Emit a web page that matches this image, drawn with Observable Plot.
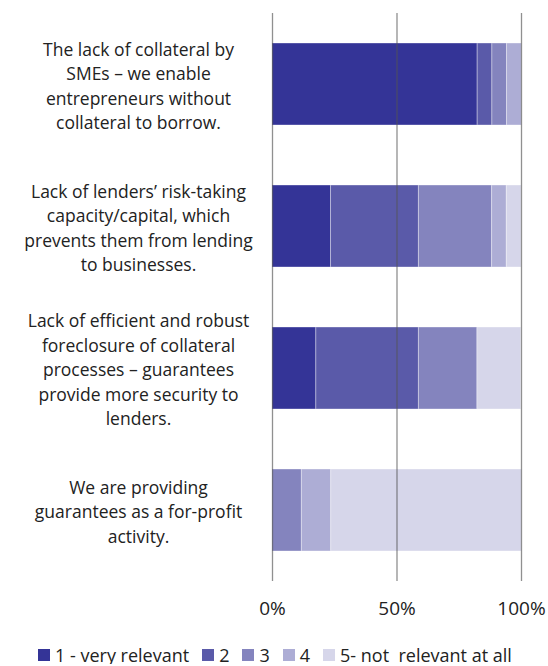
<!DOCTYPE html>
<html>
<head>
<meta charset="utf-8">
<script src="https://cdn.jsdelivr.net/npm/d3@7"></script>
<script src="https://cdn.jsdelivr.net/npm/@observablehq/plot@0.6"></script>
<style>
  body { margin: 0; background: #fff; font-family: "Open Sans", sans-serif; overflow: hidden; }
  #legend { display: flex; justify-content: flex-start; align-items: center; margin: 21px 0 0 38px; height: 18px; line-height: 18px; font-size: 18px; color: #222; white-space: pre; }
  #legend .item { display: flex; align-items: center; margin-right: 13px; }
  #legend .sw { width: 12px; height: 12px; margin-right: 5px; }
</style>
</head>
<body>
<div id="chart"></div>
<div id="legend"></div>
<script>
const categories = [
  "The lack of collateral by\nSMEs – we enable\nentrepreneurs without\ncollateral to borrow.",
  "Lack of lenders’ risk-taking\ncapacity/capital, which\nprevents them from lending\nto businesses.",
  "Lack of efficient and robust\nforeclosure of collateral\nprocesses – guarantees\nprovide more security to\nlenders.",
  "We are providing\nguarantees as a for-profit\nactivity."
];
const seriesNames = ["1 - very relevant", "2", "3", "4", "5- not  relevant at all"];
const s1 = [82.4, 23.5, 17.6, 0];
const s2 = [5.9, 35.3, 41.2, 0];
const s3 = [5.9, 29.4, 23.5, 11.8];
const s4 = [5.9, 5.9, 0, 11.8];
const s5 = [0, 5.9, 17.6, 76.5];
const colors = ["#343497", "#5a5aa9", "#8484be", "#adadd5", "#d6d6ea"];
const xTicks = [0, 50, 100];

const seriesValues = [s1, s2, s3, s4, s5];
const rows = [];
categories.forEach((c, i) => {
  seriesValues.forEach((s, j) => {
    rows.push({category: c, series: seriesNames[j], value: s[i]});
  });
});

const chart = Plot.plot({
  width: 548,
  height: 625,
  marginLeft: 272,
  marginRight: 27,
  marginTop: 13,
  marginBottom: 44,
  style: {fontFamily: "Open Sans, sans-serif", color: "#222", background: "#fff"},
  x: {domain: [0, 100]},
  y: {domain: categories, paddingInner: 0.4225, paddingOuter: 0.211},
  color: {domain: seriesNames, range: colors},
  marks: [
    Plot.barX(rows, {
      y: "category",
      x: "value",
      fill: "series",
      order: seriesNames,
      stroke: "white",
      strokeOpacity: 0.35,
      strokeWidth: 1,
      inset: 0
    }),
    Plot.ruleX(xTicks, {stroke: "#555", strokeOpacity: 0.65, strokeWidth: 1.3}),
    Plot.axisX({ticks: xTicks, tickSize: 0, tickPadding: 20, tickFormat: d => d + "%", fontSize: 19, label: null}),
    Plot.axisY({tickSize: 0, tickPadding: 0, textAnchor: "middle", dx: -134, fontSize: 17.5, lineHeight: 1.4, label: null})
  ]
});
document.getElementById("chart").appendChild(chart);

const legend = document.getElementById("legend");
seriesNames.forEach((n, i) => {
  const item = document.createElement("div");
  item.className = "item";
  const sw = document.createElement("span");
  sw.className = "sw";
  sw.style.background = colors[i];
  const t = document.createElement("span");
  t.textContent = n;
  item.appendChild(sw);
  item.appendChild(t);
  legend.appendChild(item);
});
</script>
</body>
</html>
